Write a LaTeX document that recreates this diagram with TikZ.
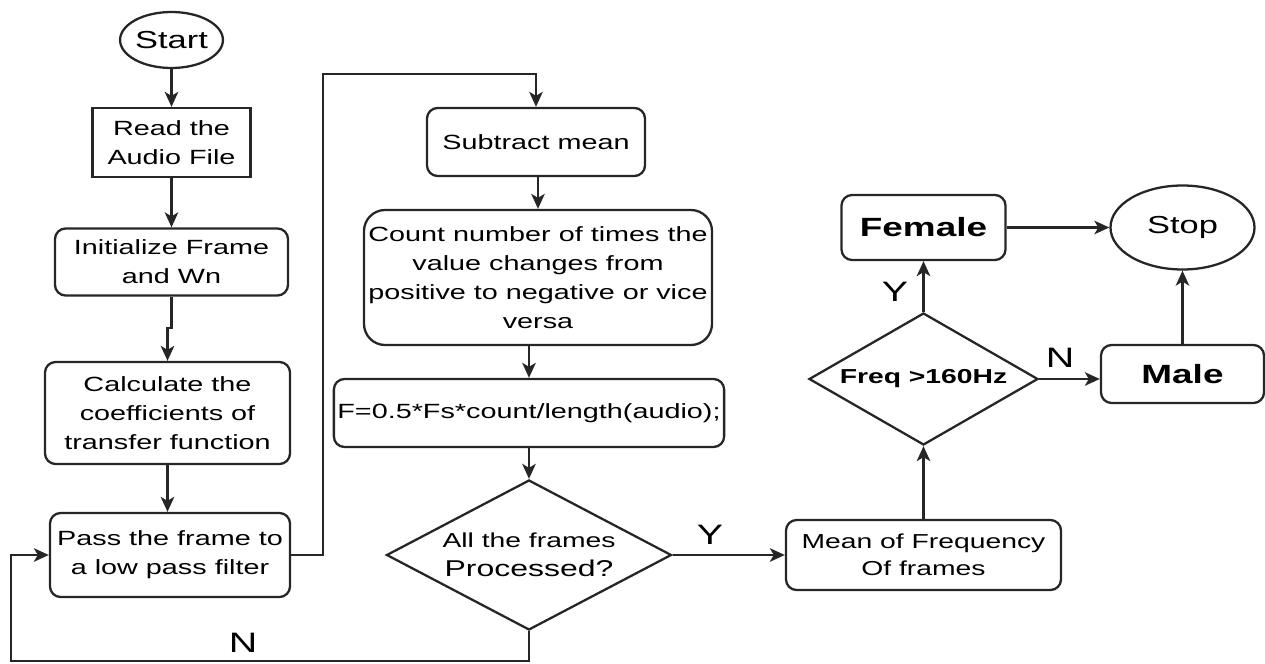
\documentclass[tikz,border=0pt]{standalone}
\usepackage{fontspec}
\setmainfont{Liberation Sans}[FakeStretch=1.4]
\usetikzlibrary{positioning,shapes.geometric,arrows.meta}

\begin{document}
\begin{tikzpicture}[
    term/.style={draw=black!85, ellipse, line width=1.3pt, inner sep=0pt,
                 font=\fontsize{14}{16}\selectfont},
    readbox/.style={draw=black!85, line width=1.3pt, inner sep=2pt,
                    align=center, font=\fontsize{11.7}{16.5}\selectfont},
    proc/.style={draw=black!85, rounded corners=6pt, line width=1.3pt,
                 inner sep=2pt, align=center, font=\fontsize{11.7}{16.5}\selectfont},
    decision/.style={draw=black!85, diamond, line width=1.3pt, inner sep=0pt,
                     align=center, font=\fontsize{11.7}{16.5}\selectfont},
    result/.style={proc, font=\fontsize{15}{18}\selectfont\bfseries},
    lbl/.style={font=\fontsize{16}{18}\selectfont},
    flow/.style={-{Stealth[length=0.3cm,width=0.27cm,inset=0.08cm]},
                 line width=1.3pt, black!85}
]
\useasboundingbox (0,0) rectangle (25.3,-13.28);

% Left column
\node[term, minimum width=2.04cm, minimum height=1.12cm] (start) at (3.43,-0.80) {Start};
\node[readbox, minimum width=3.16cm, minimum height=1.38cm] (read) at (3.43,-2.85) {Read the\\Audio File};
\node[proc, minimum width=4.66cm, minimum height=1.34cm] (init) at (3.43,-5.24) {Initialize Frame\\and Wn};
\node[proc, minimum width=4.9cm, minimum height=2.04cm] (calc) at (3.35,-8.26) {Calculate the\\coefficients of\\transfer function};
\node[proc, minimum width=4.8cm, minimum height=1.68cm] (pass) at (3.40,-11.10) {Pass the frame to\\a low pass filter};

% Middle column
\node[proc, minimum width=4.36cm, minimum height=1.36cm] (sub) at (10.72,-2.84) {Subtract mean};
\node[proc, rounded corners=12pt, minimum width=6.96cm, minimum height=2.7cm] (count) at (10.76,-5.55)
    {Count number of times the\\value changes from\\positive to negative or vice\\versa};
\node[proc, minimum width=7.74cm, minimum height=1.36cm] (fbox) at (10.58,-8.26) {F=0.5*Fs*count/length(audio);};
\node[decision, shape aspect=1.9, minimum width=5.7cm, minimum height=3cm] (frames) at (10.58,-11.10)
    {{\fontsize{11.5}{14}\selectfont All the frames}\\{\fontsize{13}{15}\selectfont Processed?}};

% Right part
\node[proc, font=\fontsize{11.5}{15.5}\selectfont, minimum width=5.5cm, minimum height=1.4cm] (mean) at (18.47,-11.10) {Mean of Frequency\\Of frames};
\node[decision, shape aspect=1.73, font=\fontsize{11.5}{14}\selectfont\bfseries, minimum width=4.58cm, minimum height=2.64cm] (freq) at (18.47,-7.58) {Freq >160Hz};
\node[result, minimum width=3.28cm, minimum height=1.3cm] (female) at (18.47,-4.55) {Female};
\node[term, minimum width=2.88cm, minimum height=1.68cm] (stop) at (23.65,-4.55) {Stop};
\node[result, minimum width=3.26cm, minimum height=1.16cm] (male) at (23.65,-7.48) {Male};

% Forward flows
\draw[flow] (start) -- (read);
\draw[flow] (read) -- (init);
\draw[flow] (init.south) -- ++(0,-0.62) -| (calc.north);
\draw[flow] (calc.south) -- (calc.south |- pass.north);
\draw[flow] (pass.east) -- ++(0.64,0) |- ([yshift=0.66cm]sub.north) -- (sub.north);
\draw[flow] (count.north |- sub.south) -- (count.north);
\draw[flow] (fbox.north |- count.south) -- (fbox.north);
\draw[flow] (fbox) -- (frames);
\draw[flow] (frames) -- (mean);
\draw[flow] (mean) -- (freq);
\draw[flow] (freq) -- (female);
\draw[flow] (freq.east) -- (freq.east -| male.west);
\draw[flow] (female) -- (stop);
\draw[flow] (male) -- (stop);

% Feedback flow
\draw[flow] (frames.south) -- ++(0,-0.6) -| ([xshift=-0.76cm]pass.west) -- (pass.west);

% Branch labels
\node[lbl] (ny) at (14.2,-10.7) {Y};
\node[lbl] (nn) at (4.86,-12.86) {N};
\node[lbl] (fy) at (17.9,-5.84) {Y};
\node[lbl] (fn) at (21.2,-7.16) {N};

\end{tikzpicture}
\end{document}
